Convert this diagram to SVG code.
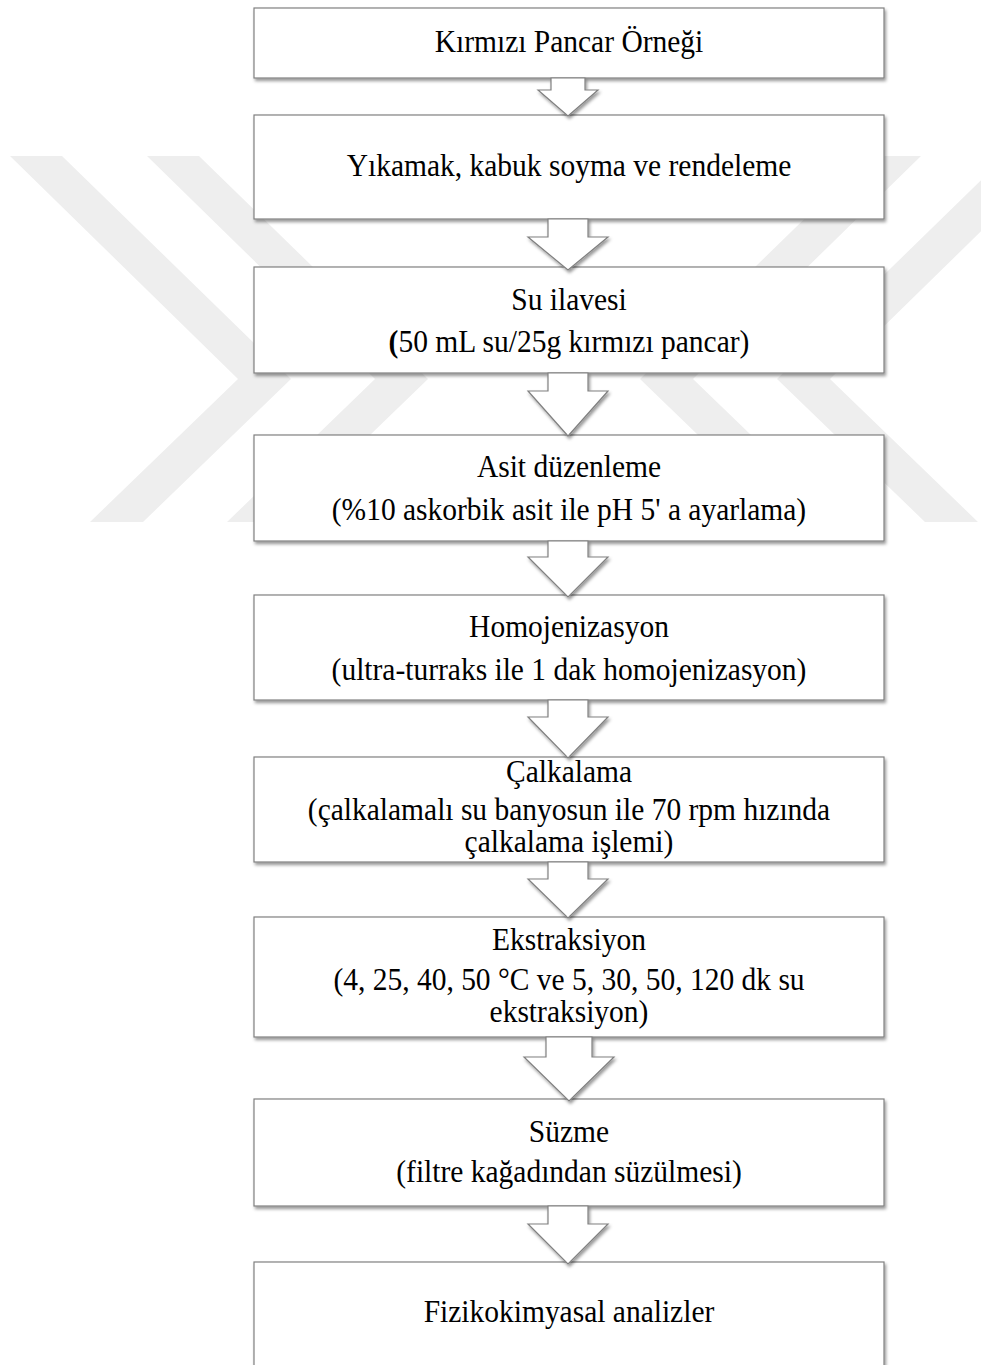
<svg xmlns="http://www.w3.org/2000/svg" width="981" height="1365" viewBox="0 0 981 1365">
  <defs>
    <filter id="shadow" x="-5%" y="-20%" width="115%" height="150%">
      <feDropShadow dx="1.5" dy="2.5" stdDeviation="1.4" flood-color="#000" flood-opacity="0.4"/>
    </filter>
    <style>
      .box { fill: #ffffff; stroke: #808080; stroke-width: 1.2; filter: url(#shadow); }
      .arrow { fill: #ffffff; stroke: #808080; stroke-width: 1.2; stroke-linejoin: miter; filter: url(#shadow); }
      .wm { fill: #eeeeee; }
      text { font-family: "Liberation Serif", "Times New Roman", serif; font-size: 29.5px; fill: #000; text-anchor: middle; }
    </style>
  </defs>

  <rect x="0" y="0" width="981" height="1365" fill="#ffffff"/>

  <!-- faint background emblem -->
  <g id="emblem">
    <polygon class="wm" points="10,156 62,156 291,379 143,522 90,522 238,379"/>
    <polygon class="wm" points="147,156 199,156 428,379 280,522 227,522 375,379"/>
    <polygon class="wm" points="1058,156 1006,156 777,379 925,522 978,522 830,379"/>
    <polygon class="wm" points="921,156 869,156 640,379 788,522 841,522 693,379"/>
  </g>

  <!-- labels are set slightly tall: y values are divided by the 1.07 vertical scale -->
  <g id="n1">
    <rect class="box" x="254" y="8" width="630" height="70"/>
    <g transform="scale(1 1.07)">
      <text x="569" y="48.6">Kırmızı Pancar Örneği</text>
    </g>
  </g>
  <g id="n2">
    <rect class="box" x="254" y="115" width="630" height="104"/>
    <g transform="scale(1 1.07)">
      <text x="569" y="164.5">Yıkamak, kabuk soyma ve rendeleme</text>
    </g>
  </g>
  <g id="n3">
    <rect class="box" x="254" y="267" width="630" height="106"/>
    <g transform="scale(1 1.07)">
      <text x="569" y="289.7">Su ilavesi</text>
      <text x="569" y="329"><tspan font-weight="bold">(</tspan>50 mL su/25g kırmızı pancar)</text>
    </g>
  </g>
  <g id="n4">
    <rect class="box" x="254" y="435" width="630" height="106"/>
    <g transform="scale(1 1.07)">
      <text x="569" y="445.8">Asit düzenleme</text>
      <text x="569" y="486">(%10 askorbik asit ile pH 5' a ayarlama)</text>
    </g>
  </g>
  <g id="n5">
    <rect class="box" x="254" y="595" width="630" height="105"/>
    <g transform="scale(1 1.07)">
      <text x="569" y="595.3">Homojenizasyon</text>
      <text x="569" y="635.5">(ultra-turraks ile 1 dak homojenizasyon)</text>
    </g>
  </g>
  <g id="n6">
    <rect class="box" x="254" y="757" width="630" height="105"/>
    <g transform="scale(1 1.07)">
      <text x="569" y="730.8">Çalkalama</text>
      <text x="569" y="766.4">(çalkalamalı su banyosun ile 70 rpm hızında</text>
      <text x="569" y="796.3">çalkalama işlemi)</text>
    </g>
  </g>
  <g id="n7">
    <rect class="box" x="254" y="917" width="630" height="120"/>
    <g transform="scale(1 1.07)">
      <text x="569" y="887.9">Ekstraksiyon</text>
      <text x="569" y="925.2">(4, 25, 40, 50 °C ve 5, 30, 50, 120 dk su</text>
      <text x="569" y="955.1">ekstraksiyon)</text>
    </g>
  </g>
  <g id="n8">
    <rect class="box" x="254" y="1099" width="630" height="107"/>
    <g transform="scale(1 1.07)">
      <text x="569" y="1067.3">Süzme</text>
      <text x="569" y="1104.7">(filtre kağadından süzülmesi)</text>
    </g>
  </g>
  <g id="n9">
    <rect class="box" x="254" y="1262" width="630" height="140"/>
    <g transform="scale(1 1.07)">
      <text x="569" y="1235.5">Fizikokimyasal analizler</text>
    </g>
  </g>

  <!-- block arrows between steps -->
  <g id="connectors">
    <polygon class="arrow" points="551,78 585,78 585,90 598,90 568,116 538,90 551,90"/>
    <polygon class="arrow" points="548,219 588,219 588,237 608,237 568,270 528,237 548,237"/>
    <polygon class="arrow" points="548,373 588,373 588,391 608,391 568,436 528,391 548,391"/>
    <polygon class="arrow" points="548,541 588,541 588,557 608,557 568,597 528,557 548,557"/>
    <polygon class="arrow" points="548,700 588,700 588,717 608,717 568,758 528,717 548,717"/>
    <polygon class="arrow" points="548,862 588,862 588,879 608,879 568,918 528,879 548,879"/>
    <polygon class="arrow" points="546,1037 592,1037 592,1057 614,1057 569,1101 524,1057 546,1057"/>
    <polygon class="arrow" points="548,1206 588,1206 588,1224 608,1224 568,1264 528,1224 548,1224"/>
  </g>
</svg>
